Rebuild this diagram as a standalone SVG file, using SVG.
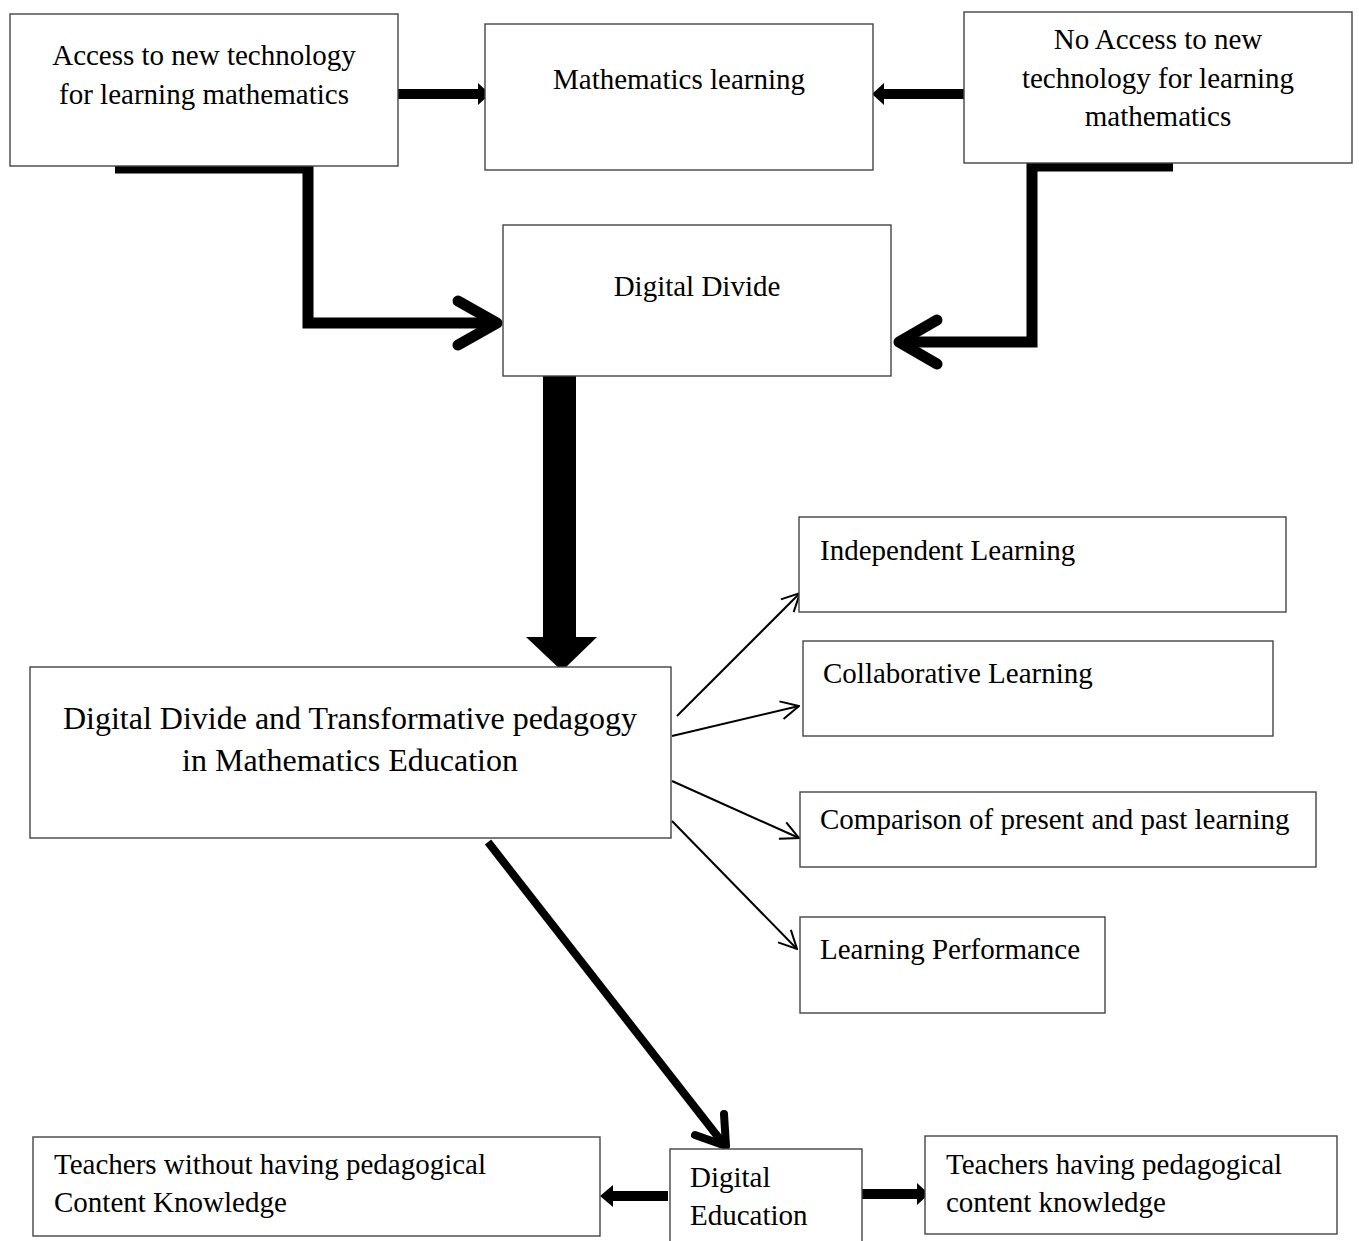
<svg xmlns="http://www.w3.org/2000/svg" width="1359" height="1241" viewBox="0 0 1359 1241">
<style>
.box{fill:#fff;stroke:#444;stroke-width:1.4}
.t{font-family:"Liberation Serif","Times New Roman",serif;font-size:29px;fill:#000}
.c{text-anchor:middle}
.big{font-size:32px}
.thick{fill:none;stroke:#000;stroke-width:11;stroke-linejoin:miter}
.chev{fill:none;stroke:#000;stroke-width:11;stroke-linecap:round;stroke-linejoin:round}
.thin{fill:none;stroke:#000;stroke-width:2;marker-end:url(#open)}
</style>
<defs>
<marker id="open" viewBox="0 0 20 20" refX="19" refY="10" markerWidth="20" markerHeight="20" markerUnits="userSpaceOnUse" orient="auto">
<path d="M1,1 L19,10 L1,19" fill="none" stroke="#000" stroke-width="2"/>
</marker>
</defs>
<rect width="1359" height="1241" fill="#fff"/>
<g id="connectors">
<polygon points="396,89 478,89 478,83 490,94 478,105 478,99 396,99" fill="#000"/>
<polygon points="966,89 884,89 884,83 872,94 884,105 884,99 966,99" fill="#000"/>
<polyline class="thick" points="115,168 308,168 308,323 495,323"/>
<path class="chev" d="M458,301 L497,323 L458,345"/>
<polyline class="thick" points="1173,166 1032,166 1032,342 902,342"/>
<path class="chev" d="M937,320 L899,342 L937,364"/>
<polygon points="543,376 576,376 576,637 597,637 562,671 526,637 543,637" fill="#000"/>
<line class="thin" x1="677" y1="716" x2="800" y2="593"/>
<line class="thin" x1="672" y1="736" x2="799" y2="706"/>
<line class="thin" x1="672" y1="781" x2="799" y2="838"/>
<line class="thin" x1="672" y1="821" x2="797" y2="949"/>
<line x1="488" y1="842" x2="722" y2="1142" stroke="#000" stroke-width="8"/>
<path d="M724,1114 L726,1146 L695,1135" fill="none" stroke="#000" stroke-width="8" stroke-linecap="round" stroke-linejoin="round"/>
<polygon points="668,1191 613,1191 613,1185 600,1196 613,1207 613,1201 668,1201" fill="#000"/>
<polygon points="862,1189 917,1189 917,1183 929,1194 917,1205 917,1199 862,1199" fill="#000"/>
</g>
<g id="n-access">
<rect class="box" x="10" y="14" width="388" height="152"/>
<text class="t c" x="204" y="65">Access to new technology</text>
<text class="t c" x="204" y="104">for learning mathematics</text>
</g>
<g id="n-math">
<rect class="box" x="485" y="24" width="388" height="146"/>
<text class="t c" x="679" y="89">Mathematics learning</text>
</g>
<g id="n-noaccess">
<rect class="box" x="964" y="12" width="388" height="151"/>
<text class="t c" x="1158" y="49">No Access to new</text>
<text class="t c" x="1158" y="88">technology for learning</text>
<text class="t c" x="1158" y="126">mathematics</text>
</g>
<g id="n-divide">
<rect class="box" x="503" y="225" width="388" height="151"/>
<text class="t c" x="697" y="296">Digital Divide</text>
</g>
<g id="n-transform">
<rect class="box" x="30" y="667" width="641" height="171"/>
<text class="t c big" x="350" y="729">Digital Divide and Transformative pedagogy</text>
<text class="t c big" x="350" y="771">in Mathematics Education</text>
</g>
<g id="n-independent">
<rect class="box" x="799" y="517" width="487" height="95"/>
<text class="t" x="820" y="560">Independent Learning</text>
</g>
<g id="n-collab">
<rect class="box" x="803" y="641" width="470" height="95"/>
<text class="t" x="823" y="683">Collaborative Learning</text>
</g>
<g id="n-compare">
<rect class="box" x="800" y="792" width="516" height="75"/>
<text class="t" x="820" y="829">Comparison of present and past learning</text>
</g>
<g id="n-performance">
<rect class="box" x="800" y="917" width="305" height="96"/>
<text class="t" x="820" y="959">Learning Performance</text>
</g>
<g id="n-without">
<rect class="box" x="33" y="1137" width="567" height="99"/>
<text class="t" x="54" y="1174">Teachers without having pedagogical</text>
<text class="t" x="54" y="1212">Content Knowledge</text>
</g>
<g id="n-digital-ed">
<rect class="box" x="670" y="1149" width="192" height="100"/>
<text class="t" x="690" y="1187">Digital</text>
<text class="t" x="690" y="1225">Education</text>
</g>
<g id="n-having">
<rect class="box" x="925" y="1136" width="412" height="98"/>
<text class="t" x="946" y="1174">Teachers having pedagogical</text>
<text class="t" x="946" y="1212">content knowledge</text>
</g>
</svg>
